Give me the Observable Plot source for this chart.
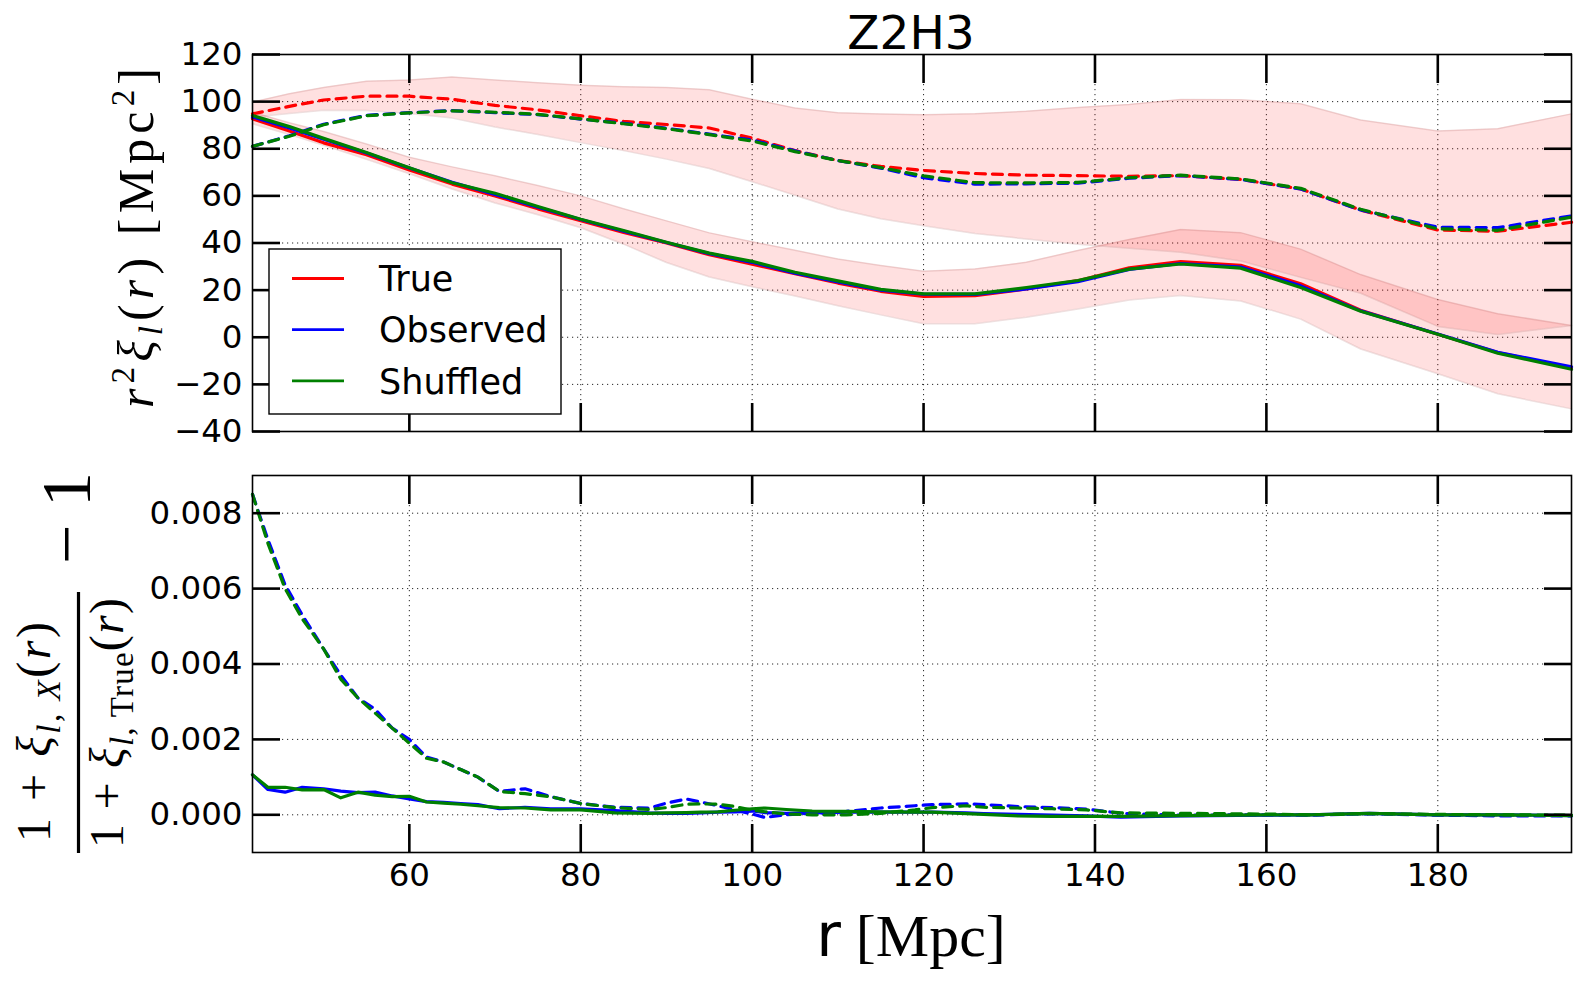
<!DOCTYPE html>
<html><head><meta charset="utf-8">
<script src="https://cdn.jsdelivr.net/npm/d3@7"></script>
<script src="https://cdn.jsdelivr.net/npm/@observablehq/plot@0.6"></script>
<style>
html,body{margin:0;padding:0;background:#fff;}
#wrap{position:relative;width:1581px;height:983px;overflow:hidden;background:#fff;}
#top,#bot{position:absolute;left:0;}
#top{top:0px}
#bot{top:460px}
#ov{position:absolute;left:0;top:0;}
</style></head>
<body><div id="wrap"><div id="top"></div><div id="bot"></div><svg id="ov" width="1581" height="983"></svg></div>
<script>
// ---------- data: top panel (r^2 xi_l(r)) ----------
const rGrid = [41.7, 46, 50, 55, 60, 65, 70, 75, 80, 85, 90, 95, 100, 105, 110, 115, 120, 126, 132, 138, 144, 150, 157, 164, 171, 180, 187, 195.6];
const trueMono = [92.7, 87.5, 82.5, 77.5, 71, 65, 60, 54.5, 49.5, 44.5, 40, 35, 31, 27, 23, 19.5, 17.3, 17.7, 20.5, 24, 29.5, 32.1, 30.5, 22.7, 11.5, 1.3, -6.5, -13];
const obsMono  = [93.5, 88.8, 84, 78.2, 71.8, 65.8, 60.6, 55.2, 50, 45, 40.2, 35.5, 31.8, 27.2, 23.5, 20, 18.3, 18.2, 20.5, 23.6, 28.8, 31.3, 29.8, 21.8, 11.2, 1.4, -6.4, -12.5];
const shufMono = [94.1, 89.4, 84.4, 78.4, 71.9, 65.6, 61.1, 55.5, 50.1, 45.3, 40.3, 35.7, 32.2, 27.6, 23.9, 20.3, 18.4, 18.4, 21.1, 24.1, 28.9, 31.1, 29.3, 21.1, 11, 1.3, -6.8, -13.6];
const trueQuad = [94.8, 98, 100.7, 102.3, 102.3, 101, 98.4, 96.5, 94, 91.6, 90.3, 88.8, 84.5, 79.2, 75, 72.5, 70.8, 69.5, 68.8, 68.6, 68.3, 68.6, 67, 62.9, 54, 45.5, 45, 48.8];
const obsQuad  = [81, 85.5, 90.4, 94.2, 95.3, 96.2, 95.3, 94.5, 92.6, 90.8, 88.7, 86.2, 83.7, 79.1, 75, 71.8, 67.7, 65, 65.1, 65.4, 67.5, 68.6, 67, 62.9, 54, 46.7, 46.5, 51.5];
const shufQuad = [81, 85.3, 90.2, 94, 95.2, 96.1, 95.5, 94.6, 92.7, 90.6, 88.5, 86, 83.3, 78.8, 75, 72, 68.5, 65.6, 65.5, 65.7, 67.7, 68.8, 67.2, 63.2, 54.3, 46, 45.4, 51];
const monoLo = [90.6, 86, 81.5, 75.5, 69.4, 62.9, 57, 52, 46.5, 39.5, 31.7, 25.6, 21.4, 17.5, 13.4, 9.5, 5.7, 5.7, 8.5, 12, 15.8, 17.7, 15.4, 7.7, -5, -15.5, -24, -30.4];
const monoHi = [95.5, 91, 87.3, 82, 76.4, 72.3, 68.5, 64.4, 60, 54.5, 49.4, 44.3, 40.5, 36.9, 33.2, 30.5, 28, 29, 31.8, 36.8, 41.5, 45.7, 44.4, 37.4, 26.6, 16, 10, 5];
const quadLo = [93.4, 95, 96.3, 96.2, 95, 93, 89.2, 86, 82.6, 79.2, 75.6, 71.6, 66, 60.3, 54.4, 50.3, 47.3, 44, 41.7, 39.5, 37.8, 36.1, 32.4, 25.4, 18.7, 4.6, 1.2, 5];
const quadHi = [99.8, 103.3, 106, 108.6, 109.2, 110.4, 109.2, 108, 107, 106.3, 106, 105, 101, 97.3, 95.3, 94.7, 94.4, 94.9, 95.9, 97.5, 98.8, 100.9, 100.8, 99.1, 92.2, 87.5, 88.5, 94.8];

// ---------- data: bottom panel (ratio - 1) ----------
const rGridB = [41.7, 43.5, 45.5, 47.5, 50, 52, 54, 56, 58, 60, 62, 64, 66, 68, 70.5, 73.5, 76.5, 80, 84, 88, 90, 92.3, 94, 96, 98, 100, 101.5, 104, 107, 111, 115, 119, 121, 125, 127, 131, 135, 139, 143, 150, 160, 165, 172, 180, 188, 195.6];
const obsRatioQuad  = [0.0085, 0.0073, 0.0061, 0.0053, 0.0044, 0.0037, 0.0031, 0.0028, 0.0023, 0.0020, 0.00153, 0.0014, 0.0012, 0.0010, 0.00062, 0.00069, 0.00048, 0.0003, 0.0002, 0.00018, 0.00031, 0.00042, 0.00034, 0.00024, 0.00013, 0.00002, -0.00007, 0.0, 0.00004, 0.00009, 0.00018, 0.00024, 0.00027, 0.00029, 0.00027, 0.00022, 0.00019, 0.00015, 0.00004, -0.00001, 0.0, -0.00001, 0.00003, -0.00001, -0.00003, -0.00003];
const shufRatioQuad = [0.0085, 0.0072, 0.0060, 0.0052, 0.0044, 0.0036, 0.0031, 0.0027, 0.0023, 0.0019, 0.0015, 0.0014, 0.0012, 0.0010, 0.00062, 0.00056, 0.00048, 0.0003, 0.00019, 0.00014, 0.00019, 0.00028, 0.00029, 0.00028, 0.00022, 0.00012, 0.00008, 0.00002, 0.0, 0.0, 0.00004, 0.00013, 0.00019, 0.00024, 0.0002, 0.00018, 0.00016, 0.00013, 0.00005, 0.00004, 0.00002, 0.0, 0.00003, 0.00001, 0.0, -0.00001];
const obsRatioMono  = [0.00106, 0.00067, 0.0006, 0.00073, 0.00069, 0.00063, 0.00059, 0.0006, 0.0005, 0.00042, 0.00035, 0.00033, 0.0003, 0.00027, 0.00016, 0.0002, 0.00016, 0.00016, 0.00011, 0.00005, 0.00004, 0.00004, 0.00005, 0.00007, 0.00008, 0.0001, 0.00006, 0.00004, 0.00005, 0.00007, 0.00007, 0.00007, 0.00007, 0.00005, 0.00003, 0.00001, -0.00001, -0.00003, -0.00006, -0.00003, -0.00001, 0.0, 0.00004, 0.0, 0.0, -0.00002];
const shufRatioMono = [0.00106, 0.00073, 0.00073, 0.00066, 0.00067, 0.00045, 0.0006, 0.00052, 0.00048, 0.00049, 0.00034, 0.00031, 0.00028, 0.00024, 0.00019, 0.00018, 0.00013, 0.00013, 0.00005, 0.00004, 0.00005, 0.00006, 0.00007, 0.00008, 0.00012, 0.00016, 0.00018, 0.00014, 0.0001, 0.00009, 0.00008, 0.00007, 0.00007, 0.00003, 0.00001, -0.00003, -0.00004, -0.00004, -0.00004, -0.00002, 0.0, 0.0, 0.00004, 0.0, 0.0, -0.00002];

// ---------- ticks / labels ----------
const xDomain = [41.7, 195.6];
const xTicks = [60, 80, 100, 120, 140, 160, 180];
const yTicksTop = [-40, -20, 0, 20, 40, 60, 80, 100, 120];
const yTicksBot = [0, 0.002, 0.004, 0.006, 0.008];
const legendNames = ["True", "Observed", "Shuffled"];
const seriesColors = ["#ff0000", "#0000ff", "#008000"];
const titleText = "Z2H3";

const topRows = rGrid.map((r, i) => ({r, trueMono: trueMono[i], obsMono: obsMono[i], shufMono: shufMono[i],
  trueQuad: trueQuad[i], obsQuad: obsQuad[i], shufQuad: shufQuad[i],
  monoLo: monoLo[i], monoHi: monoHi[i], quadLo: quadLo[i], quadHi: quadHi[i]}));
const botRows = rGridB.map((r, i) => ({r, obsQ: obsRatioQuad[i], shufQ: shufRatioQuad[i], obsM: obsRatioMono[i], shufM: shufRatioMono[i]}));

const DASH = "10,7";
const LW = 3.2;
const gridStyle = {stroke: "black", strokeOpacity: 0.85, strokeWidth: 1, strokeDasharray: "1.2,3.8"};
const tickStyle = {tickSize: -28, strokeWidth: 2.6, tickFormat: () => "", label: null};

function frameMarks(yTicks) {
  return [
    Plot.axisX(xTicks, {anchor: "bottom", ...tickStyle}),
    Plot.axisX(xTicks, {anchor: "top", ...tickStyle}),
    Plot.axisY(yTicks, {anchor: "left", ...tickStyle}),
    Plot.axisY(yTicks, {anchor: "right", ...tickStyle}),
    Plot.frame({stroke: "black", strokeWidth: 1.6})
  ];
}

const styleObj = {fontFamily: "'DejaVu Sans', sans-serif", fontSize: "32.5px", color: "black", background: "transparent", overflow: "visible"};
const fmtTop = d => d < 0 ? "\u2212" + Math.abs(d) : String(d);

const topPlot = Plot.plot({
  width: 1581, height: 460,
  marginLeft: 252, marginRight: 10, marginTop: 54, marginBottom: 29,
  style: styleObj,
  x: {domain: xDomain},
  y: {domain: [-40, 120]},
  marks: [
    Plot.gridX(xTicks, gridStyle),
    Plot.gridY(yTicksTop, gridStyle),
    Plot.areaY(topRows, {x: "r", y1: "quadLo", y2: "quadHi", fill: "red", fillOpacity: 0.12}),
    Plot.areaY(topRows, {x: "r", y1: "monoLo", y2: "monoHi", fill: "red", fillOpacity: 0.12}),
    Plot.lineY(topRows, {x: "r", y: "quadLo", stroke: "#a05050", strokeOpacity: 0.18, strokeWidth: 1.5}),
    Plot.lineY(topRows, {x: "r", y: "quadHi", stroke: "#a05050", strokeOpacity: 0.18, strokeWidth: 1.5}),
    Plot.lineY(topRows, {x: "r", y: "monoLo", stroke: "#a05050", strokeOpacity: 0.18, strokeWidth: 1.5}),
    Plot.lineY(topRows, {x: "r", y: "monoHi", stroke: "#a05050", strokeOpacity: 0.18, strokeWidth: 1.5}),
    Plot.lineY(topRows, {x: "r", y: "trueMono", stroke: seriesColors[0], strokeWidth: LW}),
    Plot.lineY(topRows, {x: "r", y: "trueQuad", stroke: seriesColors[0], strokeWidth: LW, strokeDasharray: DASH}),
    Plot.lineY(topRows, {x: "r", y: "obsMono", stroke: seriesColors[1], strokeWidth: LW}),
    Plot.lineY(topRows, {x: "r", y: "obsQuad", stroke: seriesColors[1], strokeWidth: LW, strokeDasharray: DASH}),
    Plot.lineY(topRows, {x: "r", y: "shufMono", stroke: seriesColors[2], strokeWidth: LW}),
    Plot.lineY(topRows, {x: "r", y: "shufQuad", stroke: seriesColors[2], strokeWidth: LW, strokeDasharray: DASH}),
    Plot.axisY(yTicksTop, {anchor: "left", tickSize: 0, tickPadding: 10, tickFormat: fmtTop, label: null}),
    ...frameMarks(yTicksTop)
  ]
});
document.getElementById("top").appendChild(topPlot);

const botPlot = Plot.plot({
  width: 1581, height: 523,
  marginLeft: 252, marginRight: 10, marginTop: 15, marginBottom: 131,
  style: styleObj,
  x: {domain: xDomain},
  y: {domain: [-0.001, 0.009]},
  marks: [
    Plot.gridX(xTicks, gridStyle),
    Plot.gridY(yTicksBot, gridStyle),
    Plot.lineY(botRows, {x: "r", y: "obsM", stroke: seriesColors[1], strokeWidth: LW}),
    Plot.lineY(botRows, {x: "r", y: "obsQ", stroke: seriesColors[1], strokeWidth: LW, strokeDasharray: DASH}),
    Plot.lineY(botRows, {x: "r", y: "shufM", stroke: seriesColors[2], strokeWidth: LW}),
    Plot.lineY(botRows, {x: "r", y: "shufQ", stroke: seriesColors[2], strokeWidth: LW, strokeDasharray: DASH}),
    Plot.axisY(yTicksBot, {anchor: "left", tickSize: 0, tickPadding: 10, tickFormat: d3.format(".3f"), label: null}),
    Plot.axisX(xTicks, {anchor: "bottom", tickSize: 0, tickPadding: 10, label: null}),
    ...frameMarks(yTicksBot)
  ]
});
document.getElementById("bot").appendChild(botPlot);

// ---------- overlay: title, legend, axis labels ----------
const ov = document.getElementById("ov");
const serif = "'Liberation Serif', 'DejaVu Serif', serif";
let legendHtml = `<rect x="269" y="249" width="292" height="165" fill="white" stroke="black" stroke-width="1.4"/>`;
legendNames.forEach((name, i) => {
  const yy = 278.5 + i * 51.2;
  legendHtml += `<line x1="292" x2="344" y1="${yy}" y2="${yy}" stroke="${seriesColors[i]}" stroke-width="2.8"/>`;
  legendHtml += `<text x="379" y="${yy}" dy="0.36em" font-family="'DejaVu Sans', sans-serif" font-size="35">${name}</text>`;
});
ov.innerHTML = `
<text x="911" y="49" text-anchor="middle" font-family="'DejaVu Sans', sans-serif" font-size="47">${titleText}</text>
${legendHtml}
<text x="911" y="956" text-anchor="middle" font-size="60"><tspan font-family="'DejaVu Sans', sans-serif">r</tspan><tspan font-family="${serif}"> [Mpc]</tspan></text>
<g transform="translate(153,238) rotate(-90)">
  <text x="0" y="0" text-anchor="middle" font-family="${serif}" font-size="50" textLength="340" lengthAdjust="spacing"><tspan font-style="italic">r</tspan><tspan dy="-19" font-size="33">2</tspan><tspan dy="19" font-style="italic">ξ</tspan><tspan dy="9" font-size="33" font-style="italic">l</tspan><tspan dy="-9">(</tspan><tspan font-style="italic">r</tspan><tspan>)</tspan><tspan> [Mpc</tspan><tspan dy="-19" font-size="33">2</tspan><tspan dy="19">]</tspan></text>
</g>
<g transform="translate(50,732) rotate(-90)">
  <text x="0" y="0" text-anchor="middle" font-family="${serif}" font-size="48" textLength="220" lengthAdjust="spacing"><tspan>1 + </tspan><tspan font-style="italic">ξ</tspan><tspan dy="10" font-size="33"><tspan font-style="italic">l</tspan>, <tspan font-style="italic">X</tspan></tspan><tspan dy="-10">(</tspan><tspan font-style="italic">r</tspan><tspan>)</tspan></text>
</g>
<line x1="78.5" x2="78.5" y1="592" y2="853" stroke="black" stroke-width="3.2"/>
<g transform="translate(123,723) rotate(-90)">
  <text x="0" y="0" text-anchor="middle" font-family="${serif}" font-size="48" textLength="250" lengthAdjust="spacing"><tspan>1 + </tspan><tspan font-style="italic">ξ</tspan><tspan dy="10" font-size="33"><tspan font-style="italic">l</tspan>, True</tspan><tspan dy="-10">(</tspan><tspan font-style="italic">r</tspan><tspan>)</tspan></text>
</g>
<g transform="translate(90,518) rotate(-90)">
  <text x="0" y="0" text-anchor="middle" font-family="${serif}" font-size="70">\u2212 1</text>
</g>
`;
</script>
</body></html>
